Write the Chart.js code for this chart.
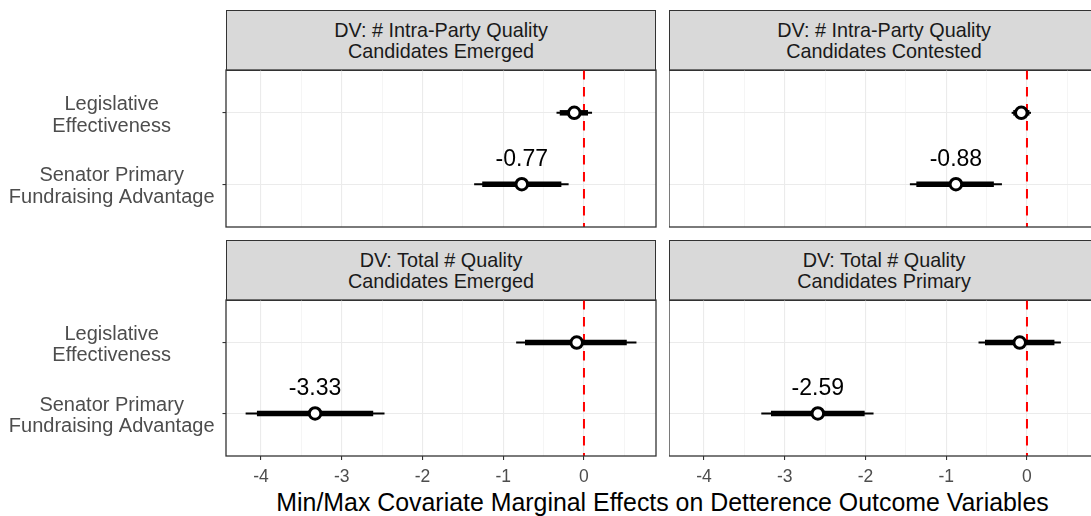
<!DOCTYPE html>
<html>
<head>
<meta charset="utf-8">
<script src="https://cdn.jsdelivr.net/npm/chart.js@4.4.1/dist/chart.umd.min.js"></script>
<style>
  html, body { margin: 0; padding: 0; background: #fff; overflow: hidden; }
  body { width: 1091px; height: 516px; position: relative; font-family: "Liberation Sans", Arial, sans-serif; }
  .panel { position: absolute; }
  .strip {
    position: absolute; box-sizing: border-box; background: #D9D9D9;
    border: 1.3px solid #333; color: #1A1A1A; font-size: 19.8px; line-height: 21px;
    text-align: center; display: flex; flex-direction: column; justify-content: center;
  }
  #xtitle {
    position: absolute; left: 226px; width: 873px; top: 490px; font-size: 24.9px;
    line-height: 24.9px; text-align: center; color: #000; white-space: nowrap;
  }
</style>
</head>
<body>
<div id="xtitle">Min/Max Covariate Marginal Effects on Detterence Outcome Variables</div>
<script>
// DATA
const rowLabels = [
  ["Legislative", "Effectiveness"],
  ["Senator Primary", "Fundraising Advantage"]
];
const panelTitles = [
  ["DV: # Intra-Party Quality", "Candidates Emerged"],
  ["DV: # Intra-Party Quality", "Candidates Contested"],
  ["DV: Total # Quality", "Candidates Emerged"],
  ["DV: Total # Quality", "Candidates Primary"]
];
// one entry per panel, [Legislative Effectiveness, Senator Primary Fundraising Advantage]
const estimates = [[-0.12, -0.77], [-0.07, -0.88], [-0.09, -3.33], [-0.09, -2.59]];
const innerLow  = [[-0.30, -1.26], [-0.17, -1.37], [-0.73, -4.05], [-0.52, -3.17]];
const innerHigh = [[0.05, -0.28], [0.03, -0.41], [0.53, -2.61], [0.34, -2.01]];
const outerLow  = [[-0.34, -1.36], [-0.19, -1.45], [-0.84, -4.19], [-0.60, -3.29]];
const outerHigh = [[0.10, -0.19], [0.05, -0.31], [0.65, -2.47], [0.42, -1.90]];
const labelledRow = 1;
const xMajorTicks = [-4, -3, -2, -1, 0];
const xMinorTicks = [-3.5, -2.5, -1.5, -0.5, 0.5];
const xRange = [-4.433, 0.892];
const yRange = [0.4, 2.6];
const refLine = 0;

// LAYOUT
const FONT = "'Liberation Sans', Arial, sans-serif";
const colLeft = [226, 669];
const stripTop = [10, 240];
const plotTop = [70, 300];
const plotH = [157, 156];
const plotW = 430;

const isMajor = v => xMajorTicks.includes(v);

const panelBorder = {
  id: "panelBorder",
  afterDraw(chart) {
    const { ctx, chartArea: a } = chart;
    ctx.save();
    ctx.strokeStyle = "#333";
    ctx.lineWidth = 1.3;
    ctx.strokeRect(a.left, a.top, a.right - a.left, a.bottom - a.top);
    ctx.restore();
  }
};

const valueLabels = {
  id: "valueLabels",
  afterDatasetsDraw(chart) {
    const p = chart.options.plugins.valueLabels.panel;
    const { ctx, scales } = chart;
    const v = estimates[p][labelledRow];
    ctx.save();
    ctx.font = "23px " + FONT;
    ctx.fillStyle = "#000";
    ctx.textAlign = "center";
    ctx.textBaseline = "alphabetic";
    ctx.fillText(v.toFixed(2), scales.x.getPixelForValue(v), scales.y.getPixelForValue(labelledRow + 1) - 18);
    ctx.restore();
  }
};

function makePanel(p) {
  const col = p % 2, row = Math.floor(p / 2);

  const strip = document.createElement("div");
  strip.className = "strip";
  strip.style.left = colLeft[col] + "px";
  strip.style.top = stripTop[row] + "px";
  strip.style.width = plotW + "px";
  strip.style.height = (plotTop[row] - stripTop[row] + 1) + "px";
  panelTitles[p].forEach(t => {
    const s = document.createElement("div");
    s.textContent = t;
    strip.appendChild(s);
  });
  document.body.appendChild(strip);

  const yAxisW = col === 0 ? colLeft[0] : 0;
  const xAxisH = row === 1 ? 36 : 0;
  const box = document.createElement("div");
  box.className = "panel";
  box.style.left = (col === 0 ? 0 : colLeft[1]) + "px";
  box.style.top = (plotTop[row] - 4) + "px";
  box.style.width = (yAxisW + plotW + 4) + "px";
  box.style.height = (4 + plotH[row] + xAxisH + (row === 0 ? 4 : 0)) + "px";
  const canvas = document.createElement("canvas");
  box.appendChild(canvas);
  document.body.appendChild(box);

  const datasets = [];
  datasets.push({
    data: [{ x: refLine, y: yRange[0] }, { x: refLine, y: yRange[1] }],
    showLine: true, borderColor: "#FF0000", borderWidth: 2, borderDash: [9.5, 7.5],
    pointRadius: 0, order: 2
  });
  estimates[p].forEach((e, r) => {
    datasets.push({
      data: [{ x: outerLow[p][r], y: r + 1 }, { x: outerHigh[p][r], y: r + 1 }],
      showLine: true, borderColor: "#000", borderWidth: 2, pointRadius: 0, order: 1
    });
    datasets.push({
      data: [{ x: innerLow[p][r], y: r + 1 }, { x: innerHigh[p][r], y: r + 1 }],
      showLine: true, borderColor: "#000", borderWidth: 5.5, pointRadius: 0, order: 1
    });
  });
  datasets.push({
    data: estimates[p].map((e, r) => ({ x: e, y: r + 1 })),
    pointRadius: 5.8, pointBorderWidth: 3, pointBackgroundColor: "#fff",
    pointBorderColor: "#000", order: 0
  });

  new Chart(canvas, {
    type: "scatter",
    data: { datasets },
    plugins: [panelBorder, valueLabels],
    options: {
      responsive: true,
      maintainAspectRatio: false,
      animation: false,
      layout: { autoPadding: false, padding: { top: 4, right: 4, bottom: row === 0 ? 4 : 0, left: 0 } },
      plugins: {
        legend: { display: false },
        tooltip: { enabled: false },
        valueLabels: { panel: p }
      },
      scales: {
        x: {
          type: "linear",
          min: xRange[0],
          max: xRange[1],
          afterBuildTicks: s => {
            s.ticks = xMajorTicks.concat(xMinorTicks).sort((a, b) => a - b).map(v => ({ value: v }));
          },
          afterFit: s => {
            s.height = xAxisH;
            s.paddingLeft = 0; s.paddingRight = 0;
          },
          border: { display: false },
          grid: {
            color: c => isMajor(c.tick.value) ? "#EBEBEB" : "#F3F3F3",
            lineWidth: c => isMajor(c.tick.value) ? 1.1 : 0.8,
            drawTicks: row === 1,
            tickLength: 4,
            tickWidth: 1.1,
            tickColor: c => isMajor(c.tick.value) ? "#333" : "rgba(0,0,0,0)"
          },
          ticks: {
            display: row === 1,
            autoSkip: false,
            maxRotation: 0,
            padding: 7,
            color: "#4D4D4D",
            font: { family: FONT, size: 17.5 },
            callback: v => isMajor(v) ? String(v) : ""
          }
        },
        y: {
          type: "linear",
          min: yRange[0],
          max: yRange[1],
          reverse: true,
          afterBuildTicks: s => {
            s.ticks = rowLabels.map((l, r) => ({ value: r + 1 }));
          },
          afterFit: s => {
            s.width = yAxisW;
            s.paddingTop = 0; s.paddingBottom = 0;
          },
          border: { display: false },
          grid: {
            color: "#EBEBEB",
            lineWidth: 1.1,
            drawTicks: col === 0,
            tickLength: 3.5,
            tickWidth: 1.1,
            tickColor: "#333"
          },
          ticks: {
            display: col === 0,
            crossAlign: "center",
            padding: 8,
            labelOffset: 2.5,
            color: "#4D4D4D",
            font: { family: FONT, size: 20, lineHeight: 1.08 },
            callback: v => rowLabels[v - 1]
          }
        }
      }
    }
  });
}

for (let p = 0; p < panelTitles.length; p++) makePanel(p);
</script>
</body>
</html>
